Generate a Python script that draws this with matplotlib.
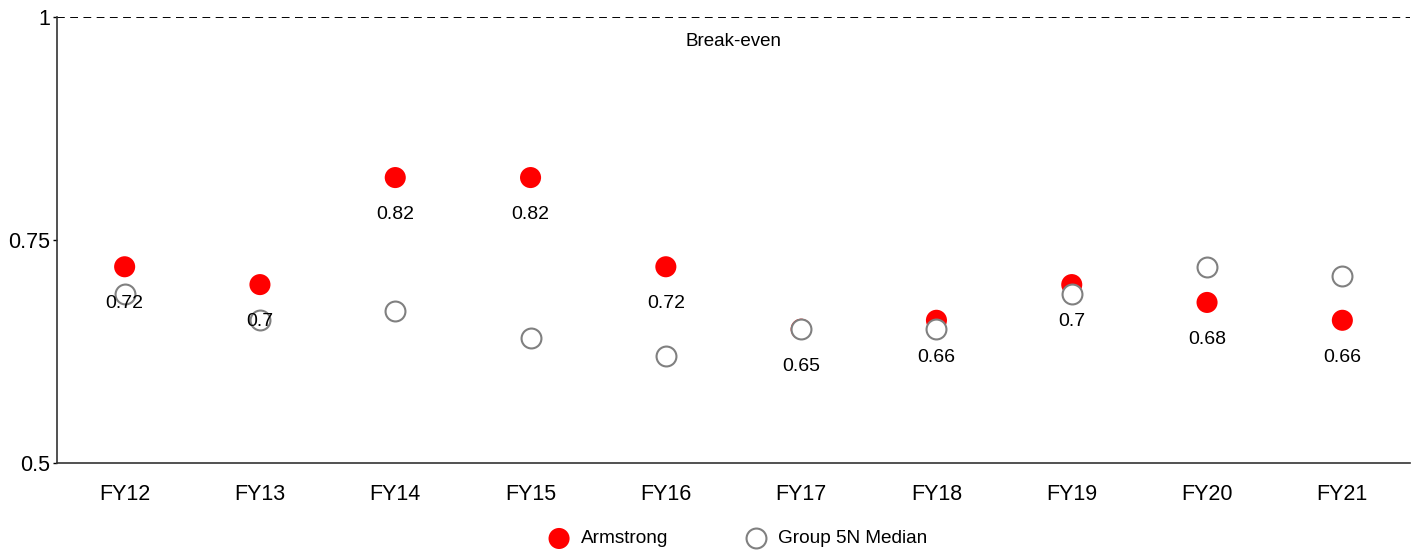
import matplotlib.pyplot as plt
import numpy as np

plt.rcParams["font.family"] = ["Liberation Sans", "DejaVu Sans"]

years = ["FY12", "FY13", "FY14", "FY15", "FY16", "FY17", "FY18", "FY19", "FY20", "FY21"]
armstrong = [0.72, 0.70, 0.82, 0.82, 0.72, 0.65, 0.66, 0.70, 0.68, 0.66]
group_median = [0.69, 0.66, 0.67, 0.64, 0.62, 0.65, 0.65, 0.69, 0.72, 0.71]
break_even = 1.0

x = np.arange(len(years))

fig = plt.figure(figsize=(14.16, 5.5), dpi=100)
ax = fig.add_axes([57 / 1416, 1 - 463 / 550, (1410 - 57) / 1416, (463 - 17) / 550])

ax.scatter(x, armstrong, s=230, color="#ff0000", edgecolors="none", zorder=3,
           label="Armstrong")
ax.scatter(x, group_median, s=205, facecolors="white", edgecolors="#808080",
           linewidths=1.5, zorder=4, label="Group 5N Median")

for xi, v in zip(x, armstrong):
    ax.annotate(f"{v:g}", (xi, v), xytext=(0, -26.5), textcoords="offset points",
                ha="center", va="center", fontsize=14, zorder=5)

ax.axhline(break_even, color="black", linestyle=(0, (4, 2.8)), linewidth=1.4, zorder=2)
ax.text((x[0] + x[-1]) / 2, break_even - 0.028, "Break-even", ha="center",
        va="center", fontsize=13.5)

ax.set_xlim(-0.5, len(years) - 0.5)
ax.set_ylim(0.5, 1.0)
ax.set_yticks([0.5, 0.75, 1.0])
ax.set_yticklabels(["0.5", "0.75", "1"])
ax.set_xticks(x)
ax.set_xticklabels(years)
ax.tick_params(axis="y", length=3, width=1, labelsize=15.5, pad=2)
ax.tick_params(axis="x", length=0, labelsize=15.5, pad=15)

for side in ["top", "right"]:
    ax.spines[side].set_visible(False)
for side in ["left", "bottom"]:
    ax.spines[side].set_color("#333333")
    ax.spines[side].set_linewidth(1.2)

ax.legend(loc="center", bbox_to_anchor=(0.5, -0.17), ncol=2, frameon=False,
          fontsize=13.7, handletextpad=0.15, columnspacing=3.6, markerscale=1.0)

fig.savefig("out.png", dpi=100)
